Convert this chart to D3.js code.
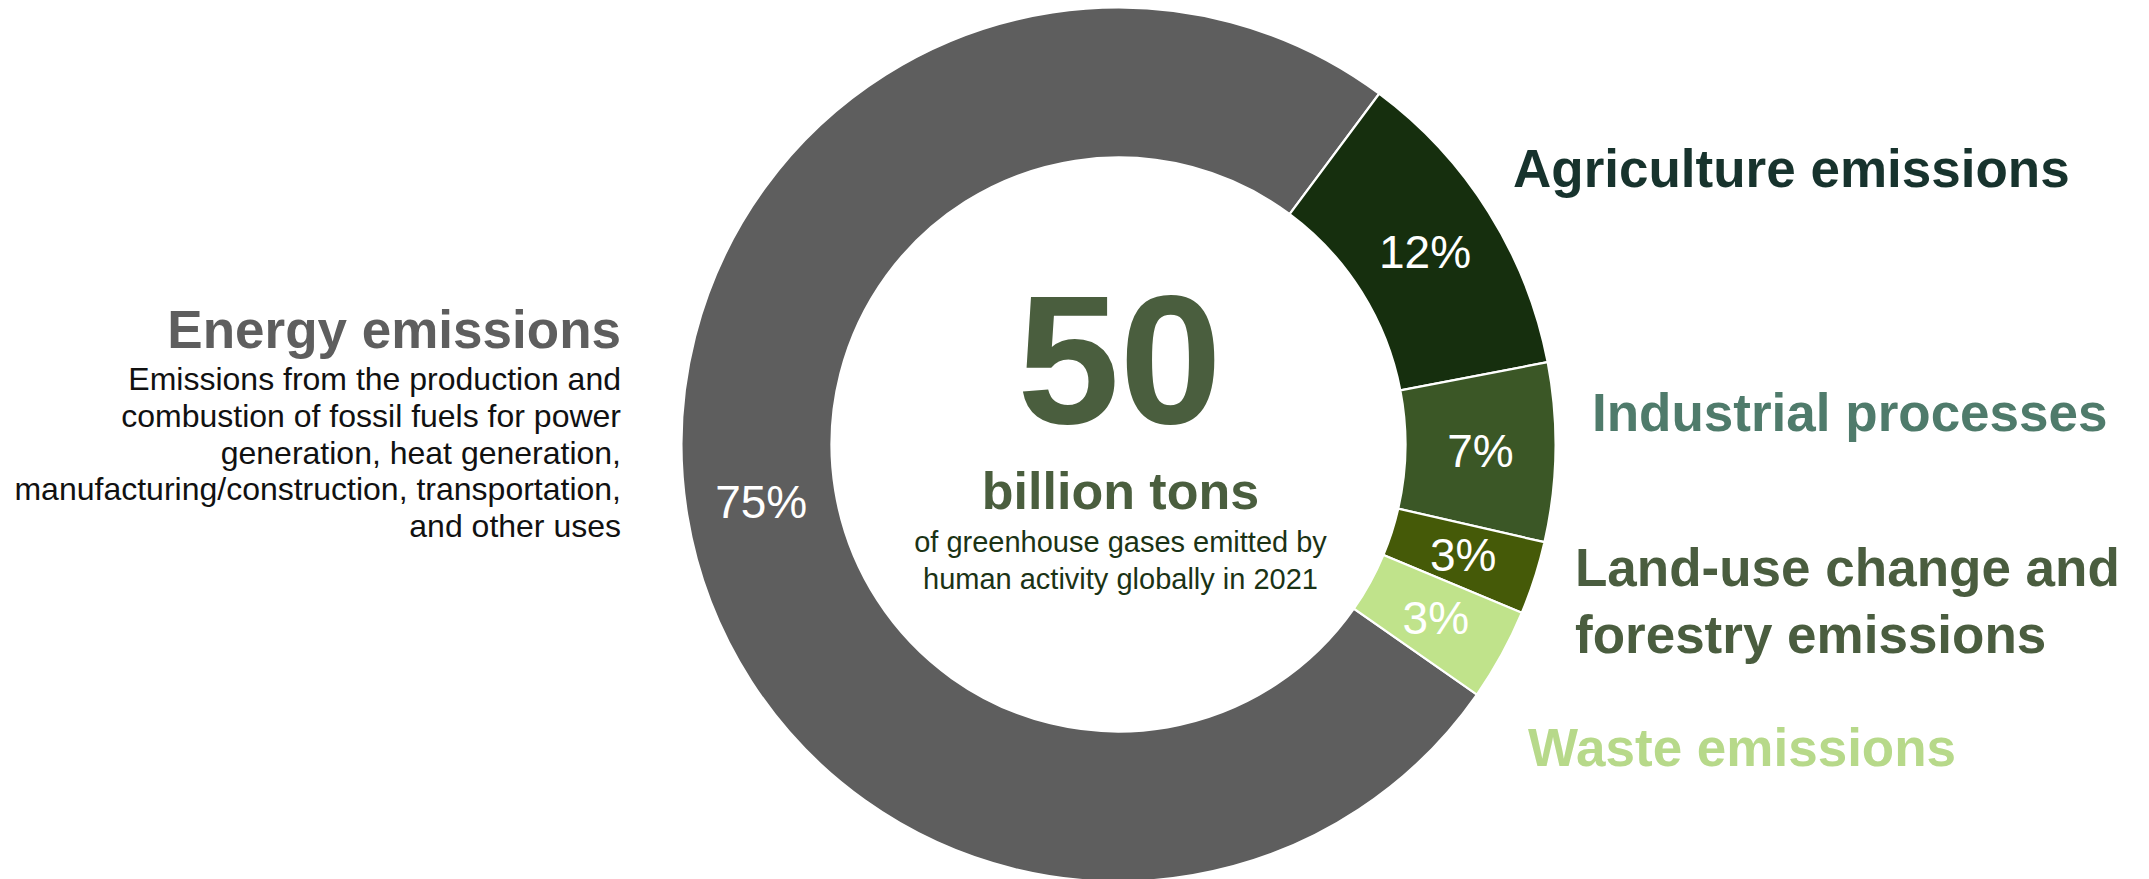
<!DOCTYPE html>
<html>
<head>
<meta charset="utf-8">
<script src="https://cdn.jsdelivr.net/npm/d3@7"></script>
<style>
  html, body { margin: 0; padding: 0; background: #ffffff; }
  svg { display: block; }
  text { font-family: "Liberation Sans", Arial, Helvetica, sans-serif; }
</style>
</head>
<body>
<svg id="chart" width="2149" height="879"></svg>
<script>
// ---- data ----
const categories = ["Energy emissions", "Agriculture emissions", "Industrial processes", "Land-use change and forestry emissions", "Waste emissions"];
const shares = [75.4, 11.8, 6.6, 2.7, 3.4];           // % of global GHG emissions
const sliceColors = ["#5e5e5e", "#162f0e", "#3b5726", "#455a08", "#c0e38b"];
const labelColors = ["#5e5e5e", "#17332d", "#4f7b6b", "#4a5d3f", "#b7d98a"];
const labelLines = [
  ["Energy emissions"],
  ["Agriculture emissions"],
  ["Industrial processes"],
  ["Land-use change and", "forestry emissions"],
  ["Waste emissions"]
];
const energyDescription = [
  "Emissions from the production and",
  "combustion of fossil fuels for power",
  "generation, heat generation,",
  "manufacturing/construction, transportation,",
  "and other uses"
];
const totalValue = "50";
const totalUnit = "billion tons";
const totalNote = ["of greenhouse gases emitted by", "human activity globally in 2021"];

// ---- layout ----
const svg = d3.select("#chart");
const cx = 1118.5, cy = 444.5;
const outerR = 437, innerR = 287;
const startDeg = 124.9;

const data = categories.map((c, i) => ({ name: c, value: shares[i], color: sliceColors[i] }));

const pie = d3.pie()
  .value(d => d.value)
  .sort(null)
  .startAngle(startDeg * Math.PI / 180)
  .endAngle(startDeg * Math.PI / 180 + 2 * Math.PI);

const arc = d3.arc().innerRadius(innerR).outerRadius(outerR);

const g = svg.append("g").attr("transform", `translate(${cx},${cy})`);
const arcs = pie(data);

g.selectAll("path.slice")
  .data(arcs)
  .join("path")
  .attr("class", "slice")
  .attr("d", arc)
  .attr("fill", d => d.data.color)
  .attr("stroke", "#ffffff")
  .attr("stroke-width", 2.2)
  .attr("stroke-linejoin", "miter");

g.selectAll("text.pct")
  .data(arcs)
  .join("text")
  .attr("class", "pct")
  .attr("transform", d => `translate(${arc.centroid(d)})`)
  .attr("text-anchor", "middle")
  .attr("dy", "0.34em")
  .attr("fill", "#ffffff")
  .attr("font-size", 46)
  .text(d => Math.round(d.data.value) + "%");

// ---- centre text ----
const center = svg.append("g").attr("text-anchor", "middle");
center.append("text")
  .attr("x", cx + 1).attr("y", 423)
  .attr("font-size", 184).attr("font-weight", "bold")
  .attr("fill", "#4a5e3e")
  .text(totalValue);
center.append("text")
  .attr("x", cx + 2).attr("y", 509)
  .attr("font-size", 52).attr("font-weight", "bold")
  .attr("fill", "#4a5e3e")
  .text(totalUnit);
center.selectAll("text.note")
  .data(totalNote)
  .join("text")
  .attr("class", "note")
  .attr("x", cx + 2)
  .attr("y", (d, i) => 552 + i * 37)
  .attr("font-size", 29)
  .attr("fill", "#1b3315")
  .text(d => d);

// ---- category labels ----
const labelPos = [
  { x: 621, y: 348, anchor: "end" },
  { x: 1513, y: 187, anchor: "start" },
  { x: 1592, y: 431, anchor: "start" },
  { x: 1575, y: 586, anchor: "start" },
  { x: 1528, y: 766, anchor: "start" }
];

const labels = svg.append("g").attr("font-weight", "bold").attr("font-size", 53);
labelLines.forEach((lines, i) => {
  const t = labels.append("text")
    .attr("text-anchor", labelPos[i].anchor)
    .attr("fill", labelColors[i]);
  lines.forEach((line, j) => {
    t.append("tspan")
      .attr("x", labelPos[i].x)
      .attr("y", labelPos[i].y + j * 67)
      .text(line);
  });
});

svg.append("g")
  .selectAll("text.desc")
  .data(energyDescription)
  .join("text")
  .attr("class", "desc")
  .attr("x", 621)
  .attr("y", (d, i) => 390 + i * 36.8)
  .attr("text-anchor", "end")
  .attr("font-size", 32)
  .attr("fill", "#111111")
  .text(d => d);
</script>
</body>
</html>
